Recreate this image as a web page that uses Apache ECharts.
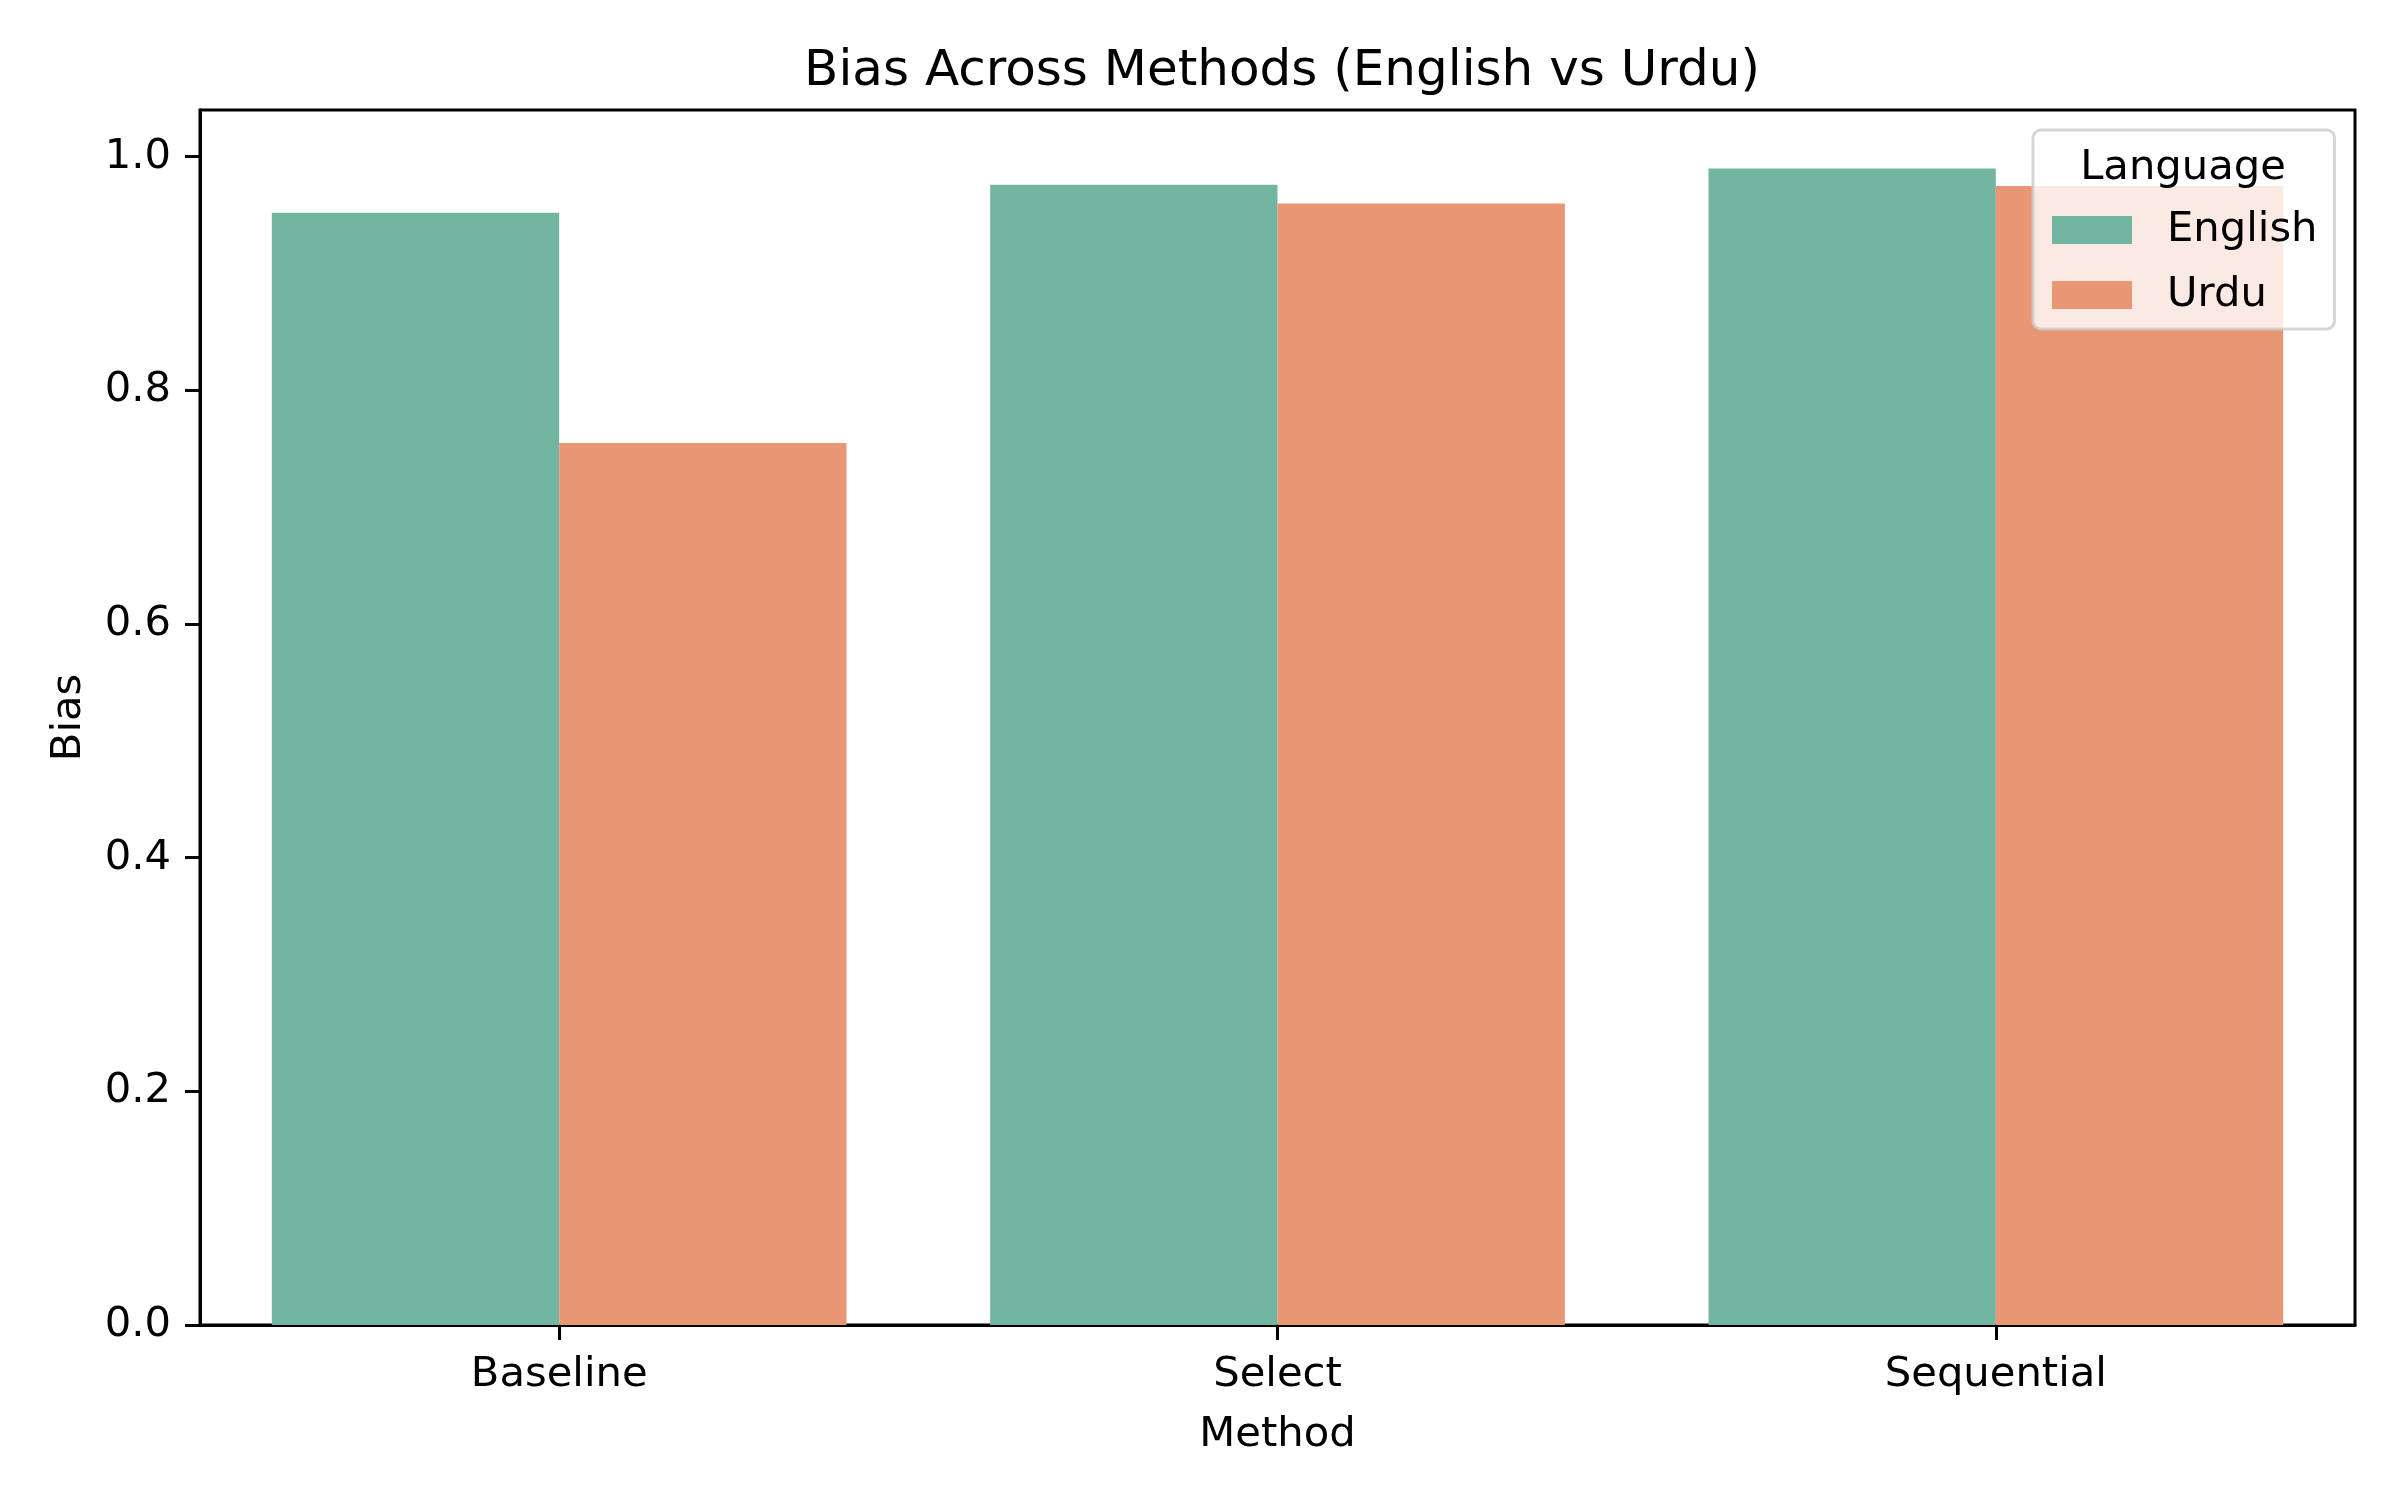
<!DOCTYPE html>
<html>
<head>
<meta charset="utf-8">
<script src="https://cdn.jsdelivr.net/npm/echarts@6/dist/echarts.min.js"></script>
<style>
  html, body { margin: 0; padding: 0; background: #fff; }
  #chart { width: 2400px; height: 1500px; }
</style>
</head>
<body>
<div id="chart"></div>
<script>
// données
var methods = ['Baseline', 'Select', 'Sequential'];
var english = [0.952, 0.976, 0.990];
var urdu = [0.755, 0.960, 0.975];
var yTicks = [0, 0.2, 0.4, 0.6, 0.8, 1.0];

var font = 'DejaVu Sans';
var fs = 41.7;

var chart = echarts.init(document.getElementById('chart'));
chart.setOption({
    animation: false,
    backgroundColor: '#ffffff',
    textStyle: { fontFamily: font, color: '#000' },
    title: {
        text: 'Bias Across Methods (English vs Urdu)',
        left: 1277,
        textAlign: 'center',
        top: 42,
        textStyle: { fontFamily: font, fontSize: 50, fontWeight: 'normal', color: '#000' }
    },
    grid: {
        left: 200, right: 45, top: 110, bottom: 175,
        show: true, borderColor: '#000', borderWidth: 3,
        containLabel: false
    },
    xAxis: {
        type: 'category',
        data: methods,
        name: 'Method',
        nameLocation: 'middle',
        nameGap: 89,
        nameTextStyle: { fontFamily: font, fontSize: fs, color: '#000' },
        axisLine: { show: true, lineStyle: { color: '#000', width: 3 } },
        axisTick: { show: true, alignWithLabel: true, length: 15, lineStyle: { color: '#000', width: 3 } },
        axisLabel: { fontFamily: font, fontSize: fs, color: '#000', margin: 29 },
        splitLine: { show: false }
    },
    yAxis: {
        type: 'value',
        min: 0,
        max: 1.04,
        interval: 0.2,
        name: 'Bias',
        nameLocation: 'middle',
        nameGap: 110,
        nameTextStyle: { fontFamily: font, fontSize: fs, color: '#000' },
        axisLine: { show: true, lineStyle: { color: '#000', width: 3 } },
        axisTick: { show: true, length: 15, customValues: yTicks, lineStyle: { color: '#000', width: 3 } },
        axisLabel: {
            fontFamily: font, fontSize: fs, color: '#000', margin: 29,
            customValues: yTicks,
            formatter: function (v) { return v.toFixed(1); }
        },
        splitLine: { show: false }
    },
    legend: {
        orient: 'vertical',
        left: 2033,
        top: 130,
        padding: [79, 17, 13, 19],
        itemWidth: 80,
        itemHeight: 28,
        itemGap: 23,
        icon: 'rect',
        backgroundColor: 'rgba(255,255,255,0.8)',
        borderColor: 'rgba(204,204,204,0.8)',
        borderWidth: 3,
        borderRadius: 8,
        textStyle: { fontFamily: font, fontSize: fs, color: '#000', lineHeight: 42, padding: [0, 0, 0, 30] },
        data: ['English', 'Urdu']
    },
    graphic: [{
        type: 'text',
        z: 100,
        x: 2183,
        y: 168,
        style: {
            text: 'Language',
            font: fs + 'px "' + font + '"',
            fill: '#000',
            textAlign: 'center',
            textVerticalAlign: 'middle'
        }
    }],
    series: [
        {
            name: 'English',
            type: 'bar',
            data: english,
            barWidth: '40%',
            barGap: '0%',
            itemStyle: { color: '#72b6a1' }
        },
        {
            name: 'Urdu',
            type: 'bar',
            data: urdu,
            barWidth: '40%',
            barGap: '0%',
            itemStyle: { color: '#e99675' }
        }
    ]
});
</script>
</body>
</html>
